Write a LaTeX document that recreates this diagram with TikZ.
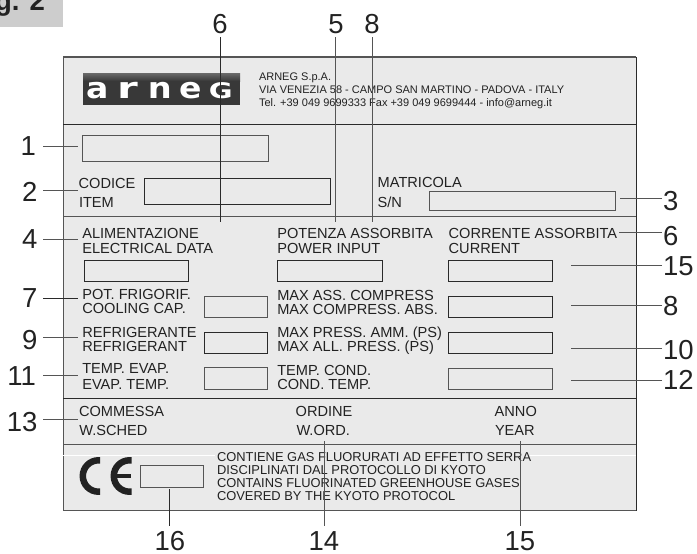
\documentclass[tikz,border=0pt]{standalone}
\usepackage{fontspec}
\setmainfont{Liberation Sans}
\newfontfamily\logofont{DejaVu Sans Bold}
\definecolor{panelc}{HTML}{EAEAEA}
\definecolor{tabc}{HTML}{CDCDCD}
\definecolor{inkc}{HTML}{222222}
\definecolor{darkl}{HTML}{2A2A2A}
\definecolor{greyl}{HTML}{555555}
\definecolor{logoc}{HTML}{383838}
\definecolor{logotop}{HTML}{6A6A6A}
\tikzset{
  every node/.style={inner sep=0pt,outer sep=0pt,text=inkc},
  num/.style={font=\fontsize{27.5}{27.5}\selectfont},
  lab/.style={anchor=base west,font=\fontsize{14.6}{14.6}\selectfont},
  small/.style={anchor=base west,font=\fontsize{11}{11}\selectfont},
  kyoto/.style={anchor=base west,font=\fontsize{12.9}{12.9}\selectfont},
  fieldbox/.style={draw=greyl,line width=1pt,minimum width=0pt},
  divider/.style={line width=1pt},
  lead/.style={draw=greyl,line width=1pt},
}
\newcommand{\fieldat}[5]{\node[fieldbox,draw=#5,anchor=north west,minimum width=#3pt-#1pt,minimum height=#4pt-#2pt] at (#1,#2) {};}
\begin{document}
\begin{tikzpicture}[x=1pt,y=-1pt]
\useasboundingbox (0,0) rectangle (697,554);
% tab
\fill[tabc] (0,0) rectangle (63,27);
\begin{scope}
\clip (0,0) rectangle (63,27);
\node[anchor=base east,font=\fontsize{27.5}{27.5}\selectfont\bfseries] (figlabel) at (45,10) {Fig. 2};
\end{scope}
% panel
\fill[panelc] (63.3,57) rectangle (636.3,510.7);
\draw[greyl,line width=1.2pt] (63.3,57) -- (636.3,57);
\draw[greyl,line width=1.2pt] (63.3,510.7) -- (636.3,510.7);
\draw[greyl,line width=1.2pt] (63.3,57) -- (63.3,510.7);
\draw[darkl,line width=1pt] (636.3,57) -- (636.3,510.7);
\draw[darkl,divider] (63.3,124.5) -- (636.3,124.5);
\draw[greyl,divider] (63.3,216) -- (636.3,216);
\draw[darkl,divider] (63.3,398) -- (636.3,398);
\draw[greyl,divider] (63.3,444.7) -- (636.3,444.7);
\draw[white,line width=.7pt] (63.3,455.7) -- (215,455.7);
\draw[white,line width=.7pt] (530,455.7) -- (636.3,455.7);
% logo
\fill[logoc] (83,73) rectangle (240,105);
\shade[top color=logotop,bottom color=logoc] (83,73) rectangle (240,81);
\node[anchor=base west,text=white,font=\logofont\fontsize{29}{29}\selectfont] (logo) at (86,98)
 {\makebox[31pt][l]{\scalebox{1.14}[1]{a}}\makebox[31pt][l]{\scalebox{1.45}[1]{r}}\makebox[31pt][l]{\scalebox{1.16}[1]{n}}\makebox[30pt][l]{\scalebox{1.14}[1]{e}}\scalebox{1}[.74]{G}};
% company text
\node[small] (addr1) at (259,80) {ARNEG S.p.A.};
\node[small] (addr2) at (259,93) {VIA VENEZIA 58 - CAMPO SAN MARTINO - PADOVA - ITALY};
\node[small] (addr3) at (259,106) {Tel. +39 049 9699333 Fax +39 049 9699444 - info@arneg.it};
% fields
\fieldat{82}{135}{268}{161}{greyl}
\fieldat{144}{178.5}{330}{204.5}{darkl}
\fieldat{429.3}{191}{615.7}{210}{greyl}
\fieldat{84}{260}{188}{281}{darkl}
\fieldat{277.3}{260}{382.3}{281}{darkl}
\fieldat{448}{260}{552.7}{281}{darkl}
\fieldat{204.3}{296.3}{267.6}{317.3}{greyl}
\fieldat{204.3}{332.7}{267.6}{353.3}{darkl}
\fieldat{204.3}{367.7}{267.6}{389}{greyl}
\fieldat{448}{296.3}{552.7}{317.3}{darkl}
\fieldat{448}{332.7}{552.7}{353.3}{darkl}
\fieldat{448}{368}{552.7}{389}{greyl}
\fieldat{140.3}{465.7}{203.3}{487.3}{greyl}
% labels
\node[lab] (codice) at (78.7,188.5) {CODICE};
\node[lab] (item) at (79,207.7) {ITEM};
\node[lab] (matricola) at (377.7,187.7) {MATRICOLA};
\node[lab] (sn) at (377.7,207.3) {S/N};
\node[lab] (alim) at (82.3,238.7) {ALIMENTAZIONE};
\node[lab] (elec) at (82.3,253.3) {ELECTRICAL DATA};
\node[lab] (pot) at (277.3,238.7) {POTENZA ASSORBITA};
\node[lab] (power) at (277.3,253.3) {POWER INPUT};
\node[lab] (corr) at (448.7,238.7) {CORRENTE ASSORBITA};
\node[lab] (curr) at (448.7,253.3) {CURRENT};
\node[lab] (frig) at (82.3,299) {POT. FRIGORIF.};
\node[lab] (cool) at (82.3,313.3) {COOLING CAP.};
\node[lab] (refa) at (82.3,337.3) {REFRIGERANTE};
\node[lab] (refb) at (82.3,351.3) {REFRIGERANT};
\node[lab] (tea) at (82.3,373) {TEMP. EVAP.};
\node[lab] (teb) at (82.3,389) {EVAP. TEMP.};
\node[lab] (maxa) at (277.3,300) {MAX ASS. COMPRESS};
\node[lab] (maxb) at (277.3,314.7) {MAX COMPRESS. ABS.};
\node[lab] (maxc) at (277.3,337.3) {MAX PRESS. AMM. (PS)};
\node[lab] (maxd) at (277.3,351.7) {MAX ALL. PRESS. (PS)};
\node[lab] (tca) at (277.3,375) {TEMP. COND.};
\node[lab] (tcb) at (277.3,389.7) {COND. TEMP.};
\node[lab] (comm) at (79,416.7) {COMMESSA};
\node[lab] (wsch) at (79.3,435) {W.SCHED};
\node[lab] (ord) at (295.7,416.7) {ORDINE};
\node[lab] (word) at (296.5,435) {W.ORD.};
\node[lab] (anno) at (494.7,416.7) {ANNO};
\node[lab] (year) at (495,435) {YEAR};
\node[kyoto] (ka) at (217,461.7) {CONTIENE GAS FLUORURATI AD EFFETTO SERRA};
\node[kyoto] (kb) at (217,474.7) {DISCIPLINATI DAL PROTOCOLLO DI KYOTO};
\node[kyoto] (kc) at (217,487.3) {CONTAINS FLUORINATED GREENHOUSE GASES};
\node[kyoto] (kd) at (217,500.7) {COVERED BY THE KYOTO PROTOCOL};
% CE mark
\draw[inkc,line width=6.5pt] (100,460.3) -- (98.5,460.3) arc[start angle=270,end angle=90,radius=15.7] -- (100,491.7);
\draw[inkc,line width=6.5pt] (131.7,460.3) -- (129.5,460.3) arc[start angle=270,end angle=90,radius=15.7] -- (131.7,491.7);
\draw[inkc,line width=4.5pt] (116,476) -- (131,476);
% numbers
\node[num,anchor=base] (t6) at (220,33) {6};
\node[num,anchor=base] (t5) at (336,33) {5};
\node[num,anchor=base] (t8) at (372,33) {8};
\node[num,anchor=base east] (l1) at (36,155) {1};
\node[num,anchor=base east] (l2) at (37.5,201.7) {2};
\node[num,anchor=base east] (l4) at (37.5,248) {4};
\node[num,anchor=base east] (l7) at (37.5,307) {7};
\node[num,anchor=base east] (l9) at (37.5,349) {9};
\node[num,anchor=base east] (l11) at (36,385.7) {11};
\node[num,anchor=base east] (l13) at (37.5,431) {13};
\node[num,anchor=base west] (r3) at (663,210) {3};
\node[num,anchor=base west] (r6) at (663,245) {6};
\node[num,anchor=base west] (r15) at (663,275) {15};
\node[num,anchor=base west] (r8) at (663,315.7) {8};
\node[num,anchor=base west] (r10) at (663,359) {10};
\node[num,anchor=base west] (r12) at (663,389.7) {12};
\node[num,anchor=base] (b16) at (170,550.7) {16};
\node[num,anchor=base] (b14) at (324,550.7) {14};
\node[num,anchor=base] (b15) at (520,550.7) {15};
% connector free ends
\coordinate (e6) at (220.5,222);
\coordinate (e5) at (335.5,222);
\coordinate (e8) at (372,222);
\coordinate (e1) at (78,146);
\coordinate (e2) at (78,190.7);
\coordinate (e4) at (78,239);
\coordinate (e7) at (78,298.3);
\coordinate (e9) at (78,337);
\coordinate (e11) at (78,375.7);
\coordinate (e13) at (78,419.7);
\coordinate (f3) at (620,198);
\coordinate (f6) at (618.7,232.7);
\coordinate (f15) at (571,265.7);
\coordinate (f8) at (571,305.7);
\coordinate (f10) at (571,348.7);
\coordinate (f12) at (571,380);
\coordinate (g16) at (169.5,489);
\coordinate (g14) at (324.3,440.7);
\coordinate (g15) at (520.3,440.7);
% connectors
\draw[darkl,line width=1pt] ([yshift=-4pt]t6.south -| e6) -- (e6);
\draw[greyl,line width=1pt] ([yshift=-4pt]t5.south -| e5) -- (e5);
\draw[greyl,line width=1pt] ([yshift=-4pt]t8.south -| e8) -- (e8);
\draw[lead] ([xshift=7pt]l1.east |- e1) -- (e1);
\draw[lead] ([xshift=5.5pt]l2.east |- e2) -- (e2);
\draw[lead] ([xshift=5.5pt]l4.east |- e4) -- (e4);
\draw[darkl,line width=1pt] ([xshift=5.5pt]l7.east |- e7) -- (e7);
\draw[lead] ([xshift=5.5pt]l9.east |- e9) -- (e9);
\draw[lead] ([xshift=7pt]l11.east |- e11) -- (e11);
\draw[lead] ([xshift=5.5pt]l13.east |- e13) -- (e13);
\draw[lead] ([xshift=-1pt]r3.west |- f3) -- (f3);
\draw[lead] ([xshift=-1pt]r6.west |- f6) -- (f6);
\draw[lead] ([xshift=-1pt]r15.west |- f15) -- (f15);
\draw[lead] ([xshift=-1pt]r8.west |- f8) -- (f8);
\draw[lead] ([xshift=-1pt]r10.west |- f10) -- (f10);
\draw[lead] ([xshift=-1pt]r12.west |- f12) -- (f12);
\draw[darkl,line width=1pt] ([yshift=6pt]b16.north -| g16) -- (g16);
\draw[lead] ([yshift=6pt]b14.north -| g14) -- (g14);
\draw[lead] ([yshift=6pt]b15.north -| g15) -- (g15);
\end{tikzpicture}
\end{document}
